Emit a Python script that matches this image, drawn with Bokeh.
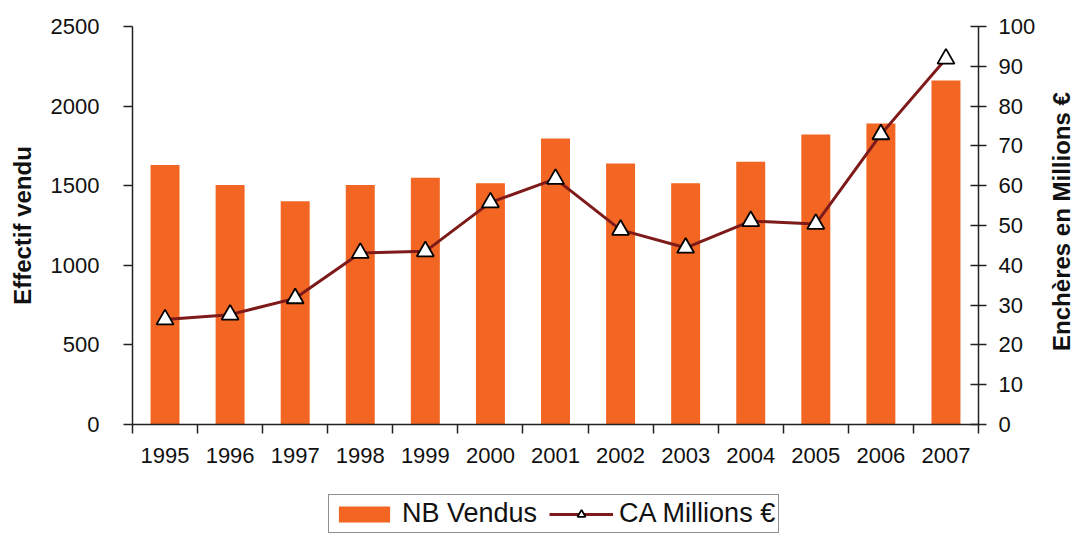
import math
from bokeh.plotting import figure
from bokeh.models import (Range1d, LinearAxis, FixedTicker, Legend, LegendItem, ColumnDataSource, Label)
from bokeh.embed import file_html
from bokeh.resources import INLINE

years = ["1995", "1996", "1997", "1998", "1999", "2000", "2001", "2002", "2003", "2004", "2005", "2006", "2007"]
nb_vendus = [1630, 1505, 1403, 1505, 1550, 1515, 1797, 1640, 1515, 1651, 1821, 1890, 2161]
ca_millions = [26.4, 27.6, 31.7, 43.1, 43.5, 55.8, 61.7, 48.9, 44.4, 51.1, 50.4, 72.9, 91.9]
nb_ticks = [0, 500, 1000, 1500, 2000, 2500]
ca_ticks = list(range(0, 101, 10))

FONT = "Liberation Sans"
BAR = "#F26522"
LINE = "#7E1A1A"
INK = "#222222"

W, H = 1078, 534
# pixel layout of the plotting area inside the canvas
LEFT, RIGHT, TOP, BOTTOM = 132, 978, 26, 424

n = len(years)
idx = list(range(n))
src = ColumnDataSource(dict(x=idx, nb=nb_vendus, ca=ca_millions))

cat_px = (RIGHT - LEFT) / n
nb_px = (BOTTOM - TOP) / nb_ticks[-1]
ca_px = (BOTTOM - TOP) / ca_ticks[-1]

# the whole canvas is the frame; axes are pinned at the plotting-area edges
x_range = Range1d(-0.5 - LEFT / cat_px, n - 0.5 + (W - RIGHT) / cat_px)
y_range = Range1d(-(H - BOTTOM) / nb_px, nb_ticks[-1] + TOP / nb_px)

p = figure(width=W, height=H, output_backend="svg", toolbar_location=None,
           x_range=x_range, y_range=y_range, x_axis_type=None, y_axis_type=None,
           min_border_left=0, min_border_right=0, min_border_top=0, min_border_bottom=0)
p.outline_line_color = None
p.grid.visible = False
p.background_fill_color = "white"
p.border_fill_color = "white"
p.extra_y_ranges = {"ca": Range1d(-(H - BOTTOM) / ca_px, ca_ticks[-1] + TOP / ca_px)}


def style_axis(ax):
    ax.axis_line_color = INK
    ax.axis_line_width = 1.5
    ax.major_tick_line_color = INK
    ax.major_tick_line_width = 1.5
    ax.minor_tick_line_color = INK
    ax.minor_tick_line_width = 1.5
    ax.major_label_text_font = FONT
    ax.major_label_text_font_size = "22px"
    ax.major_label_text_color = "#111111"


# x axis: labels at category centres, minor ticks at boundaries
xa = LinearAxis(ticker=FixedTicker(ticks=idx, minor_ticks=[i - 0.5 for i in range(n + 1)]),
                bounds=(-0.5, n - 0.5), fixed_location=0)
style_axis(xa)
xa.major_label_overrides = {i: y for i, y in zip(idx, years)}
xa.major_tick_out = 0
xa.major_tick_in = 0
xa.minor_tick_out = 9
xa.minor_tick_in = 0
xa.major_label_standoff = 14
p.add_layout(xa, "below")

# left axis
ya = LinearAxis(ticker=FixedTicker(ticks=nb_ticks), bounds=(0, nb_ticks[-1]), fixed_location=-0.5)
style_axis(ya)
ya.major_tick_out = 9
ya.major_tick_in = 0
ya.minor_tick_out = 0
ya.minor_tick_in = 0
ya.major_label_standoff = 24
p.add_layout(ya, "left")

# right axis
ra = LinearAxis(y_range_name="ca", ticker=FixedTicker(ticks=ca_ticks), bounds=(0, ca_ticks[-1]),
                fixed_location=n - 0.5)
style_axis(ra)
ra.major_tick_out = 8
ra.major_tick_in = 8
ra.minor_tick_out = 0
ra.minor_tick_in = 0
ra.major_label_standoff = 12
p.add_layout(ra, "right")

# axis titles (both read bottom to top)
ltitle = Label(x=-0.5 - (LEFT - 22) / cat_px, y=nb_ticks[-1] / 2, text="Effectif vendu",
               angle=90, angle_units="deg", text_align="center", text_baseline="middle",
               text_font=FONT, text_font_style="bold", text_font_size="24px", text_color="#111111")
rtitle = Label(x=n - 0.5 + (1061 - RIGHT) / cat_px, y=ca_ticks[-1] / 2 + 1, y_range_name="ca",
               text="Enchères en Millions €",
               angle=90, angle_units="deg", text_align="center", text_baseline="middle",
               text_font=FONT, text_font_style="bold", text_font_size="24px", text_color="#111111")
p.add_layout(ltitle)
p.add_layout(rtitle)

bars = p.vbar(x="x", top="nb", width=0.445, source=src, fill_color=BAR, line_color=None)
line = p.line(x="x", y="ca", source=src, line_color=LINE, line_width=3, y_range_name="ca")
pts = p.scatter(x="x", y="ca", source=src, marker="triangle", size=17, fill_color="white",
                line_color="black", line_width=1.8, y_range_name="ca")

legend = Legend(items=[LegendItem(label="NB Vendus", renderers=[bars]),
                       LegendItem(label="CA Millions €", renderers=[line, pts])],
                orientation="horizontal", location=(328, 1))
legend.label_text_font = FONT
legend.label_text_font_size = "27px"
legend.label_text_color = "#111111"
legend.glyph_width = 64
legend.glyph_height = 20
legend.label_standoff = 6
legend.spacing = 12
legend.padding = 3
legend.margin = 0
legend.border_line_color = INK
legend.border_line_width = 1.5
legend.background_fill_color = "white"
legend.background_fill_alpha = 1
p.add_layout(legend, "center")

open("out.html", "w").write(file_html(p, INLINE))
